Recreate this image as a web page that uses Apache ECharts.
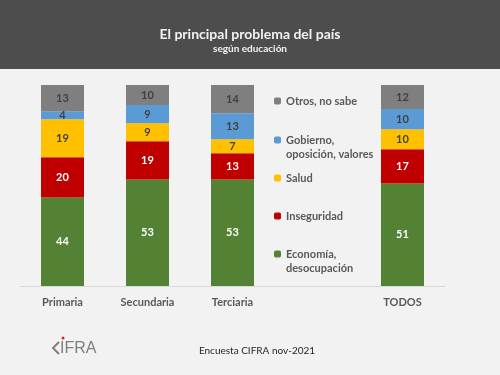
<!DOCTYPE html>
<html>
<head>
<meta charset="utf-8">
<style>
  html, body { margin: 0; padding: 0; background: #f2f2f2; }
  #chart { width: 500px; height: 375px; }
</style>
<script src="https://cdn.jsdelivr.net/npm/echarts@6/dist/echarts.min.js"></script>
</head>
<body>
<div id="chart"></div>
<script>
// categories (empty slot leaves room for the legend)
const categories = ['Primaria', 'Secundaria', 'Terciaria', '', 'TODOS']

const economia = [44, 53, 53, null, 51]
const inseguridad = [20, 19, 13, null, 17]
const salud = [19, 9, 7, null, 10]
const gobierno = [4, 9, 13, null, 10]
const otros = [13, 10, 14, null, 12]

// legend text, a leading blank line keeps the icon on the first line
const legendText = {
  'Economía, desocupación': '\nEconomía,\ndesocupación',
  'Gobierno, oposición, valores': '\nGobierno,\noposición, valores'
}

const font = 'Lato, "Open Sans", sans-serif'

const mkSeries = (name, data, color, labelColor) => ({
  name,
  type: 'bar',
  stack: 'total',
  barWidth: 43,
  data,
  itemStyle: { color },
  label: {
    show: true,
    color: labelColor,
    fontSize: 11,
    fontWeight: 'bold',
    fontFamily: font
  }
})

const mkLegend = (name, top) => ({
  data: [name],
  left: 274,
  top,
  padding: 0,
  itemWidth: 7,
  itemHeight: 7,
  itemGap: 5,
  selectedMode: false,
  formatter: n => legendText[n] || n,
  textStyle: {
    color: '#595959',
    fontSize: 11,
    fontWeight: 'bold',
    fontFamily: font,
    lineHeight: 14
  }
})

const chart = echarts.init(document.getElementById('chart'))

chart.setOption({
  backgroundColor: '#f2f2f2',
  animation: false,
  title: {
    text: 'El principal problema del país',
    subtext: 'según educación',
    left: 'center',
    top: 22,
    itemGap: 3,
    textStyle: { color: '#f2f2f2', fontSize: 14, fontWeight: 'bold', fontFamily: font },
    subtextStyle: { color: '#f2f2f2', fontSize: 10, fontWeight: 'bold', fontFamily: font }
  },
  legend: [
    mkLegend('Otros, no sabe', 94),
    mkLegend('Gobierno, oposición, valores', 119),
    mkLegend('Salud', 171),
    mkLegend('Inseguridad', 209),
    mkLegend('Economía, desocupación', 233)
  ],
  grid: { left: 20, right: 55, top: 85, bottom: 89 },
  xAxis: {
    type: 'category',
    data: categories,
    axisLine: { lineStyle: { color: '#d9d9d9' } },
    axisTick: { show: false },
    axisLabel: {
      color: '#595959',
      fontSize: 11,
      fontWeight: 'bold',
      fontFamily: font,
      margin: 11
    }
  },
  yAxis: { type: 'value', min: 0, max: 100, show: false, splitLine: { show: false } },
  series: [
    mkSeries('Economía, desocupación', economia, '#548235', '#ffffff'),
    mkSeries('Inseguridad', inseguridad, '#c00000', '#ffffff'),
    mkSeries('Salud', salud, '#ffc000', '#404040'),
    mkSeries('Gobierno, oposición, valores', gobierno, '#5b9bd5', '#404040'),
    mkSeries('Otros, no sabe', otros, '#7f7f7f', '#404040')
  ],
  graphic: [
    { type: 'rect', z: -1, shape: { x: 0, y: 0, width: 500, height: 69 }, style: { fill: '#4d4d4d' } },
    {
      type: 'text', x: 257, y: 351,
      style: { text: 'Encuesta CIFRA nov-2021', fill: '#262626', fontSize: 10, fontFamily: font, align: 'center', verticalAlign: 'middle' }
    },
    // CIFRA logo
    {
      type: 'polyline',
      shape: { points: [[59, 342], [53, 348], [59, 354]] },
      style: { stroke: '#7f7f7f', lineWidth: 2, fill: null }
    },
    {
      type: 'text', x: 60, y: 348.5,
      style: { text: 'IFRA', fill: '#7f7f7f', fontSize: 16, fontFamily: '"Liberation Sans Narrow", sans-serif', verticalAlign: 'middle' }
    },
    { type: 'circle', shape: { cx: 63, cy: 338, r: 1.5 }, style: { fill: '#e02020' } }
  ]
})
</script>
</body>
</html>
